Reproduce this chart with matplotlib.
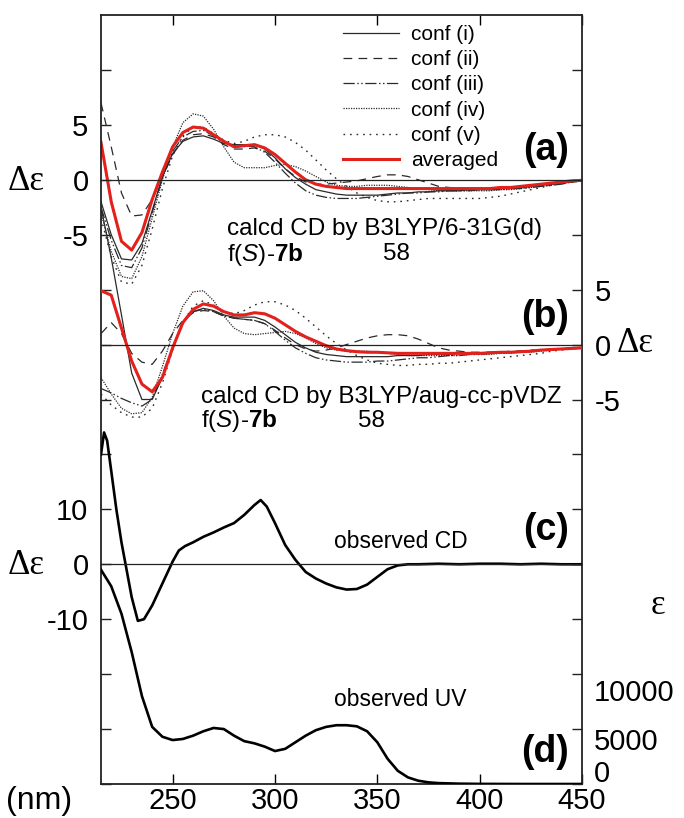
import matplotlib
matplotlib.use("Agg")
import matplotlib.pyplot as plt

plt.rcParams['font.family'] = ['Liberation Sans', 'DejaVu Sans']
plt.rcParams['mathtext.fontset'] = 'custom'
plt.rcParams['mathtext.rm'] = 'Liberation Sans'
plt.rcParams['mathtext.it'] = 'Liberation Sans:italic'
plt.rcParams['mathtext.bf'] = 'Liberation Sans:bold'

# ---------------- data ----------------
wl = [215, 220, 225, 230, 235, 240, 245, 250, 255, 260, 265, 270, 275, 280, 285, 290,
      295, 300, 305, 310, 315, 320, 325, 330, 335, 340, 345, 350, 355, 360, 365, 370,
      375, 380, 385, 390, 395, 400, 405, 410, 415, 420, 425, 430, 435, 440, 445, 450]

# (a) calcd CD, B3LYP/6-31G(d)
a_conf_i = [-2.0, -5.0, -7.2, -7.3, -5.8, -2.8, 0.3, 2.4, 3.5, 3.9, 4.0, 3.7, 3.3, 3.2, 3.2, 3.2,
            2.8, 2.0, 1.0, 0.2, -0.4, -0.9, -1.1, -1.3, -1.4, -1.4, -1.4, -1.4, -1.3, -1.2, -1.2, -1.1,
            -1.1, -1.0, -1.0, -1.0, -0.9, -0.9, -0.9, -0.8, -0.8, -0.7, -0.6, -0.5, -0.4, -0.3, -0.2, -0.1]
a_conf_ii = [7.0, 3.0, -1.2, -3.3, -3.2, -1.8, 0.2, 2.3, 3.6, 4.1, 4.2, 3.9, 3.2, 2.8, 2.8, 2.9,
             2.6, 1.9, 1.0, 0.3, -0.2, -0.4, -0.4, -0.3, -0.2, -0.1, 0.1, 0.3, 0.45, 0.45, 0.3, 0.0,
             -0.3, -0.6, -0.7, -0.8, -0.8, -0.8, -0.8, -0.8, -0.7, -0.7, -0.6, -0.5, -0.4, -0.3, -0.2, -0.1]
a_conf_iii = [-2.5, -5.5, -7.8, -8.0, -6.2, -3.0, 0.2, 2.6, 3.9, 4.4, 4.5, 4.0, 3.4, 3.1, 3.1, 3.0,
              2.5, 1.6, 0.6, -0.3, -1.0, -1.4, -1.6, -1.7, -1.7, -1.7, -1.6, -1.5, -1.4, -1.3, -1.2, -1.2,
              -1.1, -1.1, -1.0, -1.0, -1.0, -0.9, -0.9, -0.9, -0.8, -0.8, -0.7, -0.6, -0.5, -0.4, -0.2, -0.1]
a_conf_iv = [-3.0, -6.5, -8.8, -9.0, -7.0, -3.5, 0.0, 3.0, 5.2, 6.0, 5.8, 4.6, 3.0, 1.6, 1.1, 1.1,
             1.1, 1.3, 1.4, 1.2, 0.8, 0.3, -0.2, -0.5, -0.6, -0.6, -0.5, -0.5, -0.5, -0.6, -0.7, -0.8,
             -0.9, -1.0, -1.0, -1.0, -1.0, -1.0, -1.0, -0.9, -0.9, -0.8, -0.7, -0.6, -0.5, -0.3, -0.2, -0.1]
a_conf_v = [-3.5, -7.0, -9.3, -9.5, -7.8, -4.5, -0.8, 2.2, 4.0, 4.8, 4.8, 4.2, 3.6, 3.3, 3.5, 3.9,
            4.1, 4.1, 3.9, 3.4, 2.7, 1.8, 0.9, 0.1, -0.6, -1.2, -1.6, -1.9, -2.0, -2.0, -1.9, -1.8,
            -1.7, -1.7, -1.7, -1.7, -1.7, -1.7, -1.6, -1.5, -1.3, -1.1, -0.9, -0.7, -0.5, -0.3, -0.2, -0.1]
a_avg = [3.4, -2.0, -5.6, -6.4, -4.8, -1.8, 0.7, 3.0, 4.3, 4.8, 4.7, 4.1, 3.5, 3.0, 3.1, 3.2,
         2.9, 2.3, 1.5, 0.7, 0.0, -0.4, -0.6, -0.7, -0.8, -0.8, -0.8, -0.8, -0.8, -0.8, -0.8, -0.8,
         -0.8, -0.8, -0.8, -0.8, -0.8, -0.8, -0.8, -0.7, -0.7, -0.6, -0.5, -0.4, -0.3, -0.2, -0.1, -0.05]

# (b) calcd CD, B3LYP/aug-cc-pVDZ
b_conf_i = [12.5, 7.9, 2.7, -2.6, -5.0, -5.0, -3.0, -0.3, 2.0, 3.0, 3.3, 3.1, 2.7, 2.5, 2.5, 2.5,
            2.2, 1.6, 0.9, 0.2, -0.3, -0.7, -0.9, -1.0, -1.1, -1.1, -1.1, -1.1, -1.1, -1.0, -1.0, -1.0,
            -0.9, -0.9, -0.9, -0.8, -0.8, -0.8, -0.7, -0.7, -0.7, -0.6, -0.6, -0.5, -0.5, -0.4, -0.3, -0.3]
b_conf_ii = [1.0, 2.0, 1.0, -0.8, -1.6, -1.8, -0.6, 1.0, 2.2, 2.9, 3.1, 3.0, 2.6, 2.4, 2.3, 2.2,
             1.9, 1.3, 0.6, 0.0, -0.4, -0.6, -0.5, -0.3, 0.0, 0.3, 0.6, 0.8, 0.9, 0.9, 0.8, 0.5,
             0.1, -0.3, -0.5, -0.6, -0.7, -0.7, -0.7, -0.7, -0.6, -0.6, -0.5, -0.5, -0.4, -0.4, -0.3, -0.3]
b_conf_iii = [-4.0, -4.4, -4.9, -5.3, -5.6, -5.0, -2.7, -0.2, 2.0, 3.0, 3.2, 3.0, 2.6, 2.4, 2.3, 2.2,
              1.9, 1.2, 0.4, -0.3, -0.8, -1.2, -1.4, -1.5, -1.6, -1.6, -1.6, -1.5, -1.5, -1.4, -1.3, -1.2,
              -1.2, -1.1, -1.0, -1.0, -0.9, -0.9, -0.8, -0.8, -0.7, -0.7, -0.6, -0.5, -0.5, -0.4, -0.3, -0.3]
b_conf_iv = [-3.0, -4.5, -5.8, -6.3, -6.2, -4.8, -2.0, 1.0, 3.5, 4.8, 4.9, 4.0, 2.6, 1.5, 1.0, 0.9,
             1.0, 1.1, 1.2, 1.0, 0.6, 0.1, -0.3, -0.5, -0.6, -0.6, -0.6, -0.7, -0.8, -0.9, -1.0, -1.0,
             -1.0, -1.0, -1.0, -1.0, -0.9, -0.9, -0.9, -0.8, -0.8, -0.7, -0.7, -0.6, -0.5, -0.4, -0.4, -0.3]
b_conf_v = [-4.5, -5.5, -6.2, -6.6, -6.6, -5.8, -3.5, -0.5, 2.0, 3.5, 4.0, 3.6, 3.0, 2.8, 3.1, 3.6,
            3.9, 3.9, 3.6, 3.1, 2.4, 1.6, 0.8, 0.1, -0.5, -1.0, -1.4, -1.7, -1.8, -1.9, -1.9, -1.8,
            -1.8, -1.7, -1.7, -1.6, -1.5, -1.4, -1.3, -1.2, -1.1, -1.0, -0.9, -0.8, -0.6, -0.5, -0.4, -0.3]
b_avg = [4.9, 4.5, 1.5, -1.5, -3.6, -4.3, -3.0, -0.3, 2.0, 3.2, 3.7, 3.5, 3.0, 2.7, 2.7, 2.9,
         2.8, 2.4, 1.8, 1.2, 0.7, 0.3, -0.1, -0.4, -0.55, -0.65, -0.7, -0.7, -0.75, -0.8, -0.8, -0.8,
         -0.8, -0.8, -0.8, -0.8, -0.8, -0.8, -0.75, -0.7, -0.7, -0.65, -0.6, -0.5, -0.45, -0.4, -0.35, -0.3]

# (c) observed CD
wl_cd = [215, 216.5, 218, 220, 222.5, 225, 227, 230, 233, 236, 240, 245, 250, 253, 256, 260,
         265, 270, 275, 280, 285, 290, 293, 296, 300, 305, 310, 315, 320, 325, 330, 335, 340,
         345, 350, 355, 360, 365, 370, 380, 390, 400, 410, 420, 430, 440, 450]
obs_cd = [20, 24, 22.5, 17, 10, 4, 0, -6, -10.3, -10, -7.5, -3.5, 0.5, 2.5, 3.3, 4.0,
          5.0, 5.8, 6.7, 7.5, 9.0, 10.8, 11.7, 10.5, 7.5, 3.5, 0.8, -1.4, -2.6, -3.5, -4.2, -4.6, -4.5,
          -3.7, -2.3, -0.9, -0.2, 0.0, 0.0, 0.1, 0.0, 0.1, 0.1, 0.0, 0.1, 0.0, 0.0]

# (d) observed UV
wl_uv = [215, 220, 225, 230, 235, 240, 245, 250, 255, 260, 265, 270, 275, 280, 285, 290, 295,
         300, 305, 310, 315, 320, 325, 330, 335, 340, 345, 350, 355, 360, 365, 370, 375, 380,
         390, 400, 420, 450]
obs_uv = [19500, 18000, 15500, 12000, 8000, 5200, 4300, 4000, 4100, 4400, 4800, 5100, 5000, 4400,
          3900, 3700, 3400, 3000, 3200, 3800, 4400, 4900, 5200, 5350, 5350, 5250, 4800, 3800,
          2300, 1200, 600, 300, 150, 80, 30, 10, 0, 0]

conf_labels = ['conf (i)', 'conf (ii)', 'conf (iii)', 'conf (iv)', 'conf (v)', 'averaged']
x_ticks = [250, 300, 350, 400, 450]
uv_ticks = [0, 5000, 10000]

# ---------------- layout ----------------
W, H = 684, 818
fig = plt.figure(figsize=(W / 100, H / 100), dpi=100)
L, R, T, B = 101, 582, 15, 784
rect = [L / W, 1 - B / H, (R - L) / W, (B - T) / H]

def fx(px):
    return px / W

def fy(py):
    return 1 - py / H

# one shared frame; each panel is an overlaid axes with its own y scale
ax_a = fig.add_axes(rect, label='a')
ax_b = fig.add_axes(rect, label='b')
ax_c = fig.add_axes(rect, label='c')
ax_d = fig.add_axes(rect, label='d')

TICK_FS = 21
ylims = {ax_a: (-55, 15), ax_b: (-40, 30), ax_c: (-40, 100), ax_d: (0, 70000)}
for ax, lim in ylims.items():
    ax.set_xlim(215, 450)
    ax.set_ylim(*lim)
    ax.patch.set_alpha(0)
    for s in ax.spines.values():
        s.set_visible(ax is ax_a)
        s.set_linewidth(1.3)
        s.set_color('#222222')
    ax.tick_params(axis='y', direction='in', length=7, width=1, left=True, right=True,
                   labelleft=False, labelright=False, labelsize=TICK_FS, pad=9, colors='#222222')
    ax.tick_params(axis='x', bottom=False, top=False, labelbottom=False)

ax_a.tick_params(axis='x', direction='in', length=7, width=1, bottom=True, top=True,
                 labelbottom=True, labelsize=TICK_FS, pad=2)
ax_a.set_xticks(x_ticks)
ax_a.set_xticklabels([str(v) for v in x_ticks])
ax_a.tick_params(axis='x', labelcolor='black')

ax_a.set_yticks([-5, 0, 5, 10], ['-5', '0', '5', ''])
ax_a.tick_params(axis='y', labelleft=True, labelcolor='black')
ax_b.set_yticks([-5, 0, 5], ['-5', '0', '5'])
ax_b.tick_params(axis='y', labelright=True, labelcolor='black')
ax_c.set_yticks([-10, 0, 10, 20], ['-10', '0', '10', ''])
ax_c.tick_params(axis='y', labelleft=True, labelcolor='black')
ax_d.set_yticks(uv_ticks)

# UV tick labels sit slightly off their ticks
for val, py in zip(uv_ticks, [774, 742, 693]):
    fig.text(fx(594), fy(py), str(val), fontsize=TICK_FS, va='center', ha='left')

# ---------------- curves ----------------
styles = [dict(ls='-', lw=0.9, color='#2a2a2a'),
          dict(ls=(0, (7, 5)), lw=0.9, color='#2a2a2a'),
          dict(ls=(0, (9, 2, 1.2, 2, 1.2, 2)), lw=0.9, color='#2a2a2a'),
          dict(ls=(0, (1, 1)), lw=0.9, color='#2a2a2a'),
          dict(ls=(0, (1.2, 3.5)), lw=1.0, color='#2a2a2a')]
red = dict(ls='-', lw=2.2, color='#e3201b')

handles = []
for series, st in zip([a_conf_i, a_conf_ii, a_conf_iii, a_conf_iv, a_conf_v], styles):
    h, = ax_a.plot(wl, series, **st)
    handles.append(h)
h, = ax_a.plot(wl, a_avg, **red)
handles.append(h)

for series, st in zip([b_conf_i, b_conf_ii, b_conf_iii, b_conf_iv, b_conf_v], styles):
    ax_b.plot(wl, series, **st)
ax_b.plot(wl, b_avg, **red)

ax_c.plot(wl_cd, obs_cd, color='black', lw=1.9)
ax_d.plot(wl_uv, obs_uv, color='black', lw=1.9)

for ax in (ax_a, ax_b, ax_c):
    ax.axhline(0, color='#222222', lw=0.9)

leg = ax_a.legend(handles, conf_labels, loc='upper left',
                  bbox_to_anchor=(fx(343), fy(25)), bbox_transform=fig.transFigure,
                  frameon=False, fontsize=15, handlelength=2.7, handletextpad=0.55,
                  labelspacing=0.3, borderpad=0, borderaxespad=0)

# ---------------- text ----------------
serif = ['Liberation Serif', 'DejaVu Serif']
fig.text(fx(8), fy(181), 'Δε', fontsize=25, family=serif, va='center', ha='left')
fig.text(fx(8), fy(565), 'Δε', fontsize=25, family=serif, va='center', ha='left')
fig.text(fx(617), fy(344), 'Δε', fontsize=25, family=serif, va='center', ha='left')
fig.text(fx(651), fy(605), 'ε', fontsize=25, family=serif, va='center', ha='left')
fig.text(fx(6), fy(801), '(nm)', fontsize=23, va='center', ha='left')

for lab, py in [('(a)', 150), ('(b)', 317), ('(c)', 530), ('(d)', 752)]:
    fig.text(fx(569), fy(py), lab, fontsize=27, fontweight='bold', va='center', ha='right')

TXT_FS = 17.5
fig.text(fx(227), fy(229), 'calcd CD by B3LYP/6-31G(d)', fontsize=TXT_FS, va='center', ha='left')
fig.text(fx(227), fy(254), r'f$\mathit{(S)}$-$\mathbf{7b}$', fontsize=TXT_FS, va='center', ha='left')
fig.text(fx(383), fy(254), '58', fontsize=TXT_FS, va='center', ha='left')
fig.text(fx(201), fy(397), 'calcd CD by B3LYP/aug-cc-pVDZ', fontsize=TXT_FS, va='center', ha='left')
fig.text(fx(201), fy(421), r'f$\mathit{(S)}$-$\mathbf{7b}$', fontsize=TXT_FS, va='center', ha='left')
fig.text(fx(358), fy(421), '58', fontsize=TXT_FS, va='center', ha='left')
fig.text(fx(334), fy(541), 'observed CD', fontsize=16.5, va='center', ha='left')
fig.text(fx(334), fy(700), 'observed UV', fontsize=16.5, va='center', ha='left')

fig.savefig('out.png', dpi=100)
